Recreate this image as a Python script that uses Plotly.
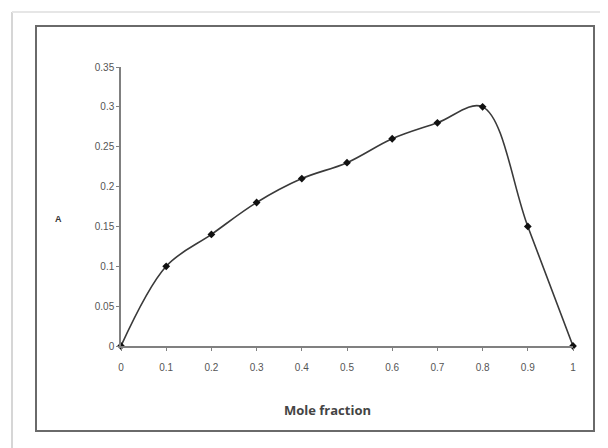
import plotly.graph_objects as go

mole_fraction = [0, 0.1, 0.2, 0.3, 0.4, 0.5, 0.6, 0.7, 0.8, 0.9, 1.0]
absorbance = [0, 0.10, 0.14, 0.18, 0.21, 0.23, 0.26, 0.28, 0.30, 0.15, 0]
x_ticks = [0, 0.1, 0.2, 0.3, 0.4, 0.5, 0.6, 0.7, 0.8, 0.9, 1]
x_tick_labels = ["0", "0.1", "0.2", "0.3", "0.4", "0.5", "0.6", "0.7", "0.8", "0.9", "1"]
y_ticks = [0, 0.05, 0.1, 0.15, 0.2, 0.25, 0.3, 0.35]
y_tick_labels = ["0", "0.05", "0.1", "0.15", "0.2", "0.25", "0.3", "0.35"]

# page body has an 8px default margin; compensate so the picture lands where intended
OFF = 8
W, H = 608, 448
L, T = 121 - OFF, 67 - OFF
pw, ph = 452, 279
R, B = W - L - pw, H - T - ph

def px(x):
    return (x - OFF - L) / pw

def py(y):
    return (T + ph - (y - OFF)) / ph

fig = go.Figure()
fig.add_trace(go.Scatter(
    x=mole_fraction, y=absorbance, mode="lines+markers",
    line=dict(color="#3a3a3a", width=1.6, shape="spline", smoothing=1.0),
    marker=dict(symbol="diamond", size=6, color="#111111"),
    cliponaxis=False, showlegend=False,
))

font = dict(family="Liberation Sans, Arial, sans-serif", size=10, color="#555555")

fig.update_layout(
    width=W, height=H,
    margin=dict(l=L, r=R, t=T, b=B),
    paper_bgcolor="white", plot_bgcolor="white",
    xaxis=dict(range=[0, 1], tickvals=x_ticks, ticktext=x_tick_labels,
               showgrid=False, zeroline=False, showline=True, linecolor="#808080",
               linewidth=1.5, ticks="outside", ticklen=3, tickcolor="#808080",
               tickfont=font, ticklabelstandoff=8),
    yaxis=dict(range=[0, 0.35], tickvals=y_ticks, ticktext=y_tick_labels,
               showgrid=False, zeroline=False, showline=True, linecolor="#808080",
               linewidth=1.5, ticks="outside", ticklen=3, tickcolor="#808080",
               tickfont=font),
    shapes=[
        dict(type="rect", xref="paper", yref="paper",
             x0=px(36), x1=px(594), y0=py(431), y1=py(26),
             line=dict(color="#6a6a6a", width=2), layer="below"),
        dict(type="line", xref="paper", yref="paper",
             x0=px(12), x1=px(12), y0=py(456), y1=py(12),
             line=dict(color="#d6d6d6", width=2)),
        dict(type="line", xref="paper", yref="paper",
             x0=px(12), x1=px(601), y0=py(12), y1=py(12),
             line=dict(color="#e6e6e6", width=2)),
        dict(type="line", xref="paper", yref="paper",
             x0=px(601), x1=px(601), y0=py(456), y1=py(12),
             line=dict(color="#eeeeee", width=1)),
    ],
    annotations=[
        dict(text="<b>A</b>", xref="paper", yref="paper", x=px(58), y=py(219),
             xanchor="center", yanchor="middle", showarrow=False,
             font=dict(family="Liberation Sans, Arial, sans-serif", size=9, color="#333333")),
        dict(text="<b>Mole fraction</b>", xref="paper", yref="paper", x=px(327), y=py(410),
             xanchor="center", yanchor="middle", showarrow=False,
             font=dict(family="Open Sans, Liberation Sans, sans-serif", size=13, color="#444444")),
    ],
)

fig.write_html("out.html")
